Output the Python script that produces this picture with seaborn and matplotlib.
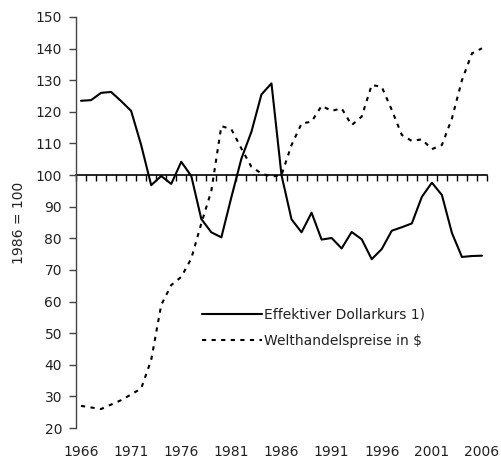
import numpy as np
import pandas as pd
import matplotlib
matplotlib.use("Agg")
import matplotlib.pyplot as plt
import seaborn as sns

# ─── DATA (1986 = 100) ───────────────────────────────────────────────────────
years = list(range(1966, 2007))

dollarkurs = [123.5, 123.7, 126.0, 126.3, 123.4, 120.3, 109.5, 96.8, 99.7, 97.2,
              104.2, 99.7, 86.1, 81.9, 80.3, 93.0, 105.2, 113.7, 125.5, 129.0,
              100.0, 86.0, 81.9, 88.1, 79.6, 80.1, 76.8, 82.0, 79.7, 73.4,
              76.6, 82.4, 83.5, 84.7, 93.1, 97.6, 93.7, 81.7, 74.1, 74.4,
              74.5]

welthandel = [27.0, 26.5, 26.0, 27.4, 28.8, 30.6, 32.5, 41.5, 58.9, 65.2,
              67.8, 73.6, 84.7, 95.0, 115.5, 114.5, 108.4, 102.6, 100.5, 99.5,
              100.0, 109.5, 116.3, 116.9, 121.9, 120.3, 121.1, 115.8, 118.5, 128.5,
              127.9, 120.6, 112.7, 110.8, 111.3, 108.2, 109.5, 117.9, 130.0, 138.5,
              140.1]

label_kurs = "Effektiver Dollarkurs 1)"
label_welt = "Welthandelspreise in $"
y_ticks = list(range(20, 151, 10))
x_tick_years = list(range(1966, 2007, 5))

df = pd.DataFrame({"Jahr": years, "kurs": dollarkurs, "welt": welthandel})

# ─── PLOT ────────────────────────────────────────────────────────────────────
sns.set_theme(style="white")
plt.rcParams["font.family"] = ["DejaVu Sans"]
TXT = "#222222"

fig = plt.figure(figsize=(5.02, 4.63), dpi=100)
ax = fig.add_axes([76 / 502, 1 - 428 / 463, 411 / 502, 411 / 463])

sns.lineplot(data=df, x="Jahr", y="kurs", ax=ax, color="black", lw=1.5,
             label=label_kurs)
sns.lineplot(data=df, x="Jahr", y="welt", ax=ax, color="black", lw=1.5,
             linestyle=(0, (2.0, 2.6)), label=label_welt)

ax.set_xlim(years[0] - 0.5, years[-1] + 0.5)
ax.set_ylim(20, 150)
ax.set_yticks(y_ticks)
ax.set_xticks(x_tick_years)
ax.set_xlabel("")
ax.set_ylabel("1986 = 100", fontsize=10, color=TXT, labelpad=7)

for s in ["top", "right", "bottom"]:
    ax.spines[s].set_visible(False)
ax.spines["left"].set_color("#444444")
ax.spines["left"].set_linewidth(1.0)

ax.tick_params(axis="y", left=True, length=5, width=1, color="#444444",
               labelsize=10, labelcolor=TXT, pad=5)
ax.tick_params(axis="x", bottom=False, length=0, labelsize=10,
               labelcolor=TXT, pad=12)

# category axis crossing at 100, tick marks between the years (pointing down)
sec = ax.secondary_xaxis(100, transform=ax.transData)
sec.set_xticks(np.arange(years[0] - 0.5, years[-1] + 1.0, 1.0))
sec.set_xticklabels([])
sec.xaxis.set_ticks_position("bottom")
sec.tick_params(axis="x", which="both", direction="out", length=4, width=1,
                color="black", bottom=True, top=False,
                labelbottom=False, labeltop=False)
for s in sec.spines:
    sec.spines[s].set_visible(s == "bottom")
sec.spines["bottom"].set_color("black")
sec.spines["bottom"].set_linewidth(1.2)

leg = ax.legend(loc="upper left", bbox_to_anchor=(0.307, 0.293), frameon=False,
                fontsize=10, handlelength=4.3, handletextpad=0.15,
                borderpad=0, borderaxespad=0, labelspacing=0.9)
for t in leg.get_texts():
    t.set_color(TXT)

fig.savefig("out.png", dpi=100)
